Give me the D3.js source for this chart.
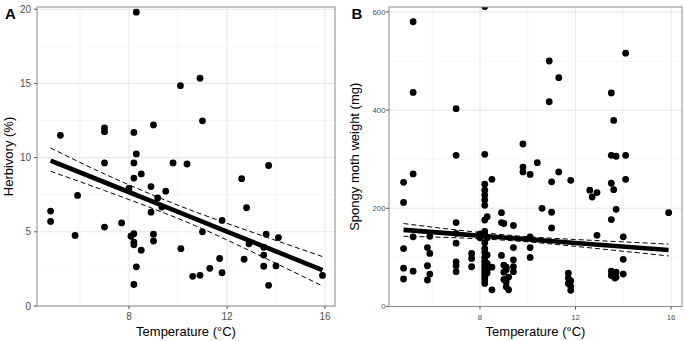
<!DOCTYPE html>
<html>
<head>
<meta charset="utf-8">
<script src="https://cdn.jsdelivr.net/npm/d3@7.9.0/dist/d3.min.js"></script>
<style>
  body { margin: 0; background: #fff; }
  svg { display: block; font-family: "Liberation Sans", Arial, sans-serif; }
</style>
</head>
<body>
<svg id="chart" width="685" height="341"></svg>
<script>
// ---- panel A: herbivory vs temperature ----
const aTemp = [4.8, 4.8, 5.2, 5.8, 5.9, 7.0, 7.0, 7.0, 7.0, 7.7, 8.0, 8.08, 8.2, 8.2, 8.2, 8.2, 8.2, 8.2, 8.2,
  8.3, 8.3, 8.3, 8.5, 8.5, 8.9, 8.9, 9.0, 9.0, 9.0, 9.17, 9.34, 9.5, 9.8, 10.1, 10.12, 10.37, 10.6, 10.9, 10.9,
  11.0, 11.0, 11.3, 11.7, 11.8, 11.8, 12.6, 12.7, 12.8, 12.9, 13.5, 13.5, 13.5, 13.6, 13.7, 13.7, 14.0, 14.1, 15.9];
const aHerb = [6.4, 5.7, 11.5, 4.75, 7.45, 12.0, 11.75, 9.64, 5.32, 5.6, 7.92, 4.7, 4.87, 4.3, 4.12, 11.7, 9.64, 8.62, 1.45,
  19.8, 10.25, 2.64, 8.9, 3.76, 8.05, 6.32, 12.2, 4.84, 4.38, 7.28, 6.67, 7.74, 9.64, 14.85, 3.86, 9.57, 2.0, 2.07, 15.35,
  12.48, 5.0, 2.54, 3.2, 5.77, 2.24, 8.58, 3.15, 6.62, 4.19, 3.96, 3.43, 2.68, 4.84, 9.47, 1.39, 2.7, 4.61, 2.06];

// model fit for A (estimate + 95% CI)
const aFitTemp = [4.8, 7, 9.5, 12, 15.9];
const aFitMid = [9.8, 8.34, 6.68, 5.01, 2.42];
const aFitLo = [9.08, 7.78, 6.23, 4.45, 1.35];
const aFitHi = [10.65, 8.9, 7.12, 5.57, 3.33];

// ---- panel B: spongy moth weight vs temperature ----
const bTemp = [4.8, 4.8, 4.8, 4.8, 4.8, 5.2, 5.2, 5.2, 5.2, 5.2, 5.8, 5.8, 5.8, 5.9, 5.9, 5.9,
  7.0, 7.0, 7.0, 7.0, 7.0, 7.0, 7.0, 7.0, 7.65, 7.65, 7.65, 8.0, 8.0,
  8.2, 8.2, 8.2, 8.2, 8.2, 8.2, 8.2, 8.2, 8.2, 8.2, 8.2, 8.2, 8.2, 8.2, 8.2, 8.2, 8.2, 8.2, 8.2, 8.2, 8.2, 8.2,
  8.3, 8.3, 8.3, 8.3, 8.3, 8.3, 8.5, 8.5, 8.5, 8.9, 8.9, 8.9, 9.0, 9.0, 9.0, 9.0, 9.1, 9.1, 9.1, 9.1, 9.2, 9.2,
  9.4, 9.4, 9.4, 9.4, 9.4, 9.8, 9.8, 9.8, 10.1, 10.1, 10.1, 10.1, 10.4, 10.6, 10.9, 10.9, 11.0, 11.0, 11.0,
  11.3, 11.3, 11.7, 11.7, 11.7, 11.8, 11.8, 11.8, 11.8, 12.6, 12.7, 12.9, 12.9,
  13.5, 13.5, 13.5, 13.5, 13.5, 13.5, 13.6, 13.6, 13.6, 13.65, 13.7, 13.7, 13.7, 13.7, 14.0, 14.0, 14.0,
  14.1, 14.1, 14.1, 15.9];
const bWeight = [253, 212, 118, 78, 56, 580, 436, 270, 142, 72, 120, 83, 54, 143, 108, 66,
  403, 308, 171, 149, 129, 91, 83, 71, 108, 98, 81, 148, 140,
  611, 310, 249, 237, 227, 217, 206, 176, 153, 145, 130, 118, 110, 100, 92, 85, 78, 72, 66, 60, 54, 47,
  183, 140, 105, 88, 75, 68, 259, 80, 34, 191, 171, 104, 169, 84, 70, 55, 80, 75, 50, 40, 34, 60,
  165, 120, 95, 81, 71, 331, 284, 274, 269, 142, 120, 100, 293, 200, 500, 417, 254, 192, 160,
  466, 274, 68, 58, 47, 257, 52, 41, 33, 237, 223, 232, 145,
  435, 308, 251, 177, 72, 63, 379, 238, 66, 58, 306, 198, 60, 70, 142, 96, 66,
  516, 308, 259, 191];

// model fit for B (estimate + 95% CI)
const bFitTemp = [4.8, 7, 9.5, 12, 15.9];
const bFitMid = [156, 147.9, 138.7, 129.4, 115];
const bFitLo = [143, 140, 133.5, 122.5, 103];
const bFitHi = [169, 156, 144, 136.5, 127];

const xTicks = [8, 12, 16];
const xMinor = [6, 10, 14];
const aYTicks = [0, 5, 10, 15, 20];
const aYMinor = [2.5, 7.5, 12.5, 17.5];
const bYTicks = [0, 200, 400, 600];
const bYMinor = [100, 300, 500];

const svg = d3.select("#chart");

function panel(opts) {
  const { id, left, right, top, bottom, xDomain, yDomain, yTicks, yMinor, xs, ys, fit, tickSize, label, labelX, yTitle, yTitleX, yLabelEnd } = opts;
  const x = d3.scaleLinear().domain(xDomain).range([left, right]);
  const y = d3.scaleLinear().domain(yDomain).range([bottom, top]);
  const g = svg.append("g");

  g.append("clipPath").attr("id", id).append("rect")
    .attr("x", left).attr("y", top).attr("width", right - left).attr("height", bottom - top);

  // grid
  g.selectAll(".xminor").data(xMinor).join("line")
    .attr("x1", (d) => x(d)).attr("x2", (d) => x(d)).attr("y1", top).attr("y2", bottom)
    .attr("stroke", "#f0f0f0").attr("stroke-width", 0.6);
  g.selectAll(".yminor").data(yMinor).join("line")
    .attr("y1", (d) => y(d)).attr("y2", (d) => y(d)).attr("x1", left).attr("x2", right)
    .attr("stroke", "#f0f0f0").attr("stroke-width", 0.6);
  g.selectAll(".xmajor").data(xTicks).join("line")
    .attr("x1", (d) => x(d)).attr("x2", (d) => x(d)).attr("y1", top).attr("y2", bottom)
    .attr("stroke", "#e8e8e8").attr("stroke-width", 1.1);
  g.selectAll(".ymajor").data(yTicks).join("line")
    .attr("y1", (d) => y(d)).attr("y2", (d) => y(d)).attr("x1", left).attr("x2", right)
    .attr("stroke", "#e8e8e8").attr("stroke-width", 1.1);

  // points
  const pts = g.append("g").attr("clip-path", `url(#${id})`);
  pts.selectAll("circle").data(xs).join("circle")
    .attr("cx", (d) => x(d)).attr("cy", (d, i) => y(ys[i])).attr("r", 3.4).attr("fill", "#000");

  // fitted line + confidence band
  const curve = (vals) => d3.line().curve(d3.curveNatural)
    .x((d, i) => x(fit.temp[i])).y((d) => y(d))(vals);
  pts.append("path").attr("d", curve(fit.mid)).attr("fill", "none").attr("stroke", "#000").attr("stroke-width", 4.6);
  [fit.lo, fit.hi].forEach((vals) => {
    pts.append("path").attr("d", curve(vals)).attr("fill", "none").attr("stroke", "#000")
      .attr("stroke-width", 1).attr("stroke-dasharray", "5,3");
  });

  // border
  g.append("rect").attr("x", left).attr("y", top).attr("width", right - left).attr("height", bottom - top)
    .attr("fill", "none").attr("stroke", "#8a8a8a").attr("stroke-width", 1);

  // ticks
  g.selectAll(".xt").data(xTicks).join("line")
    .attr("x1", (d) => x(d)).attr("x2", (d) => x(d)).attr("y1", bottom).attr("y2", bottom + 3)
    .attr("stroke", "#555");
  g.selectAll(".xl").data(xTicks).join("text")
    .attr("x", (d) => x(d)).attr("y", 319.5).attr("text-anchor", "middle")
    .attr("font-size", tickSize).attr("fill", "#4d4d4d").text((d) => d);
  g.selectAll(".yt").data(yTicks).join("line")
    .attr("x1", left - 3).attr("x2", left).attr("y1", (d) => y(d)).attr("y2", (d) => y(d))
    .attr("stroke", "#555");
  g.selectAll(".yl").data(yTicks).join("text")
    .attr("x", yLabelEnd).attr("y", (d) => y(d)).attr("dy", "0.35em").attr("text-anchor", "end")
    .attr("font-size", tickSize).attr("fill", "#4d4d4d").text((d) => d);

  // titles
  g.append("text").attr("x", (left + right) / 2).attr("y", 336).attr("text-anchor", "middle")
    .attr("font-size", 13).attr("fill", "#000").text("Temperature (°C)");
  g.append("text").attr("transform", `translate(${yTitleX},${(top + bottom) / 2}) rotate(-90)`)
    .attr("text-anchor", "middle").attr("font-size", 13).attr("fill", "#000").text(yTitle);
  g.append("text").attr("x", labelX).attr("y", 19).attr("font-size", 15).attr("font-weight", "bold")
    .attr("fill", "#000").text(label);
}

panel({
  id: "clipA", left: 37, right: 335, top: 7, bottom: 306,
  xDomain: [4.245, 16.41], yDomain: [0, 20.15], yTicks: aYTicks, yMinor: aYMinor,
  xs: aTemp, ys: aHerb, fit: { temp: aFitTemp, mid: aFitMid, lo: aFitLo, hi: aFitHi },
  tickSize: 10, label: "A", labelX: 5, yTitle: "Herbivory (%)", yTitleX: 13, yLabelEnd: 31
});
panel({
  id: "clipB", left: 389, right: 682, top: 7, bottom: 306.5,
  xDomain: [4.19, 16.46], yDomain: [0, 610], yTicks: bYTicks, yMinor: bYMinor,
  xs: bTemp, ys: bWeight, fit: { temp: bFitTemp, mid: bFitMid, lo: bFitLo, hi: bFitHi },
  tickSize: 7.8, label: "B", labelX: 351.5, yTitle: "Spongy moth weight (mg)", yTitleX: 359, yLabelEnd: 385.5
});
</script>
</body>
</html>
